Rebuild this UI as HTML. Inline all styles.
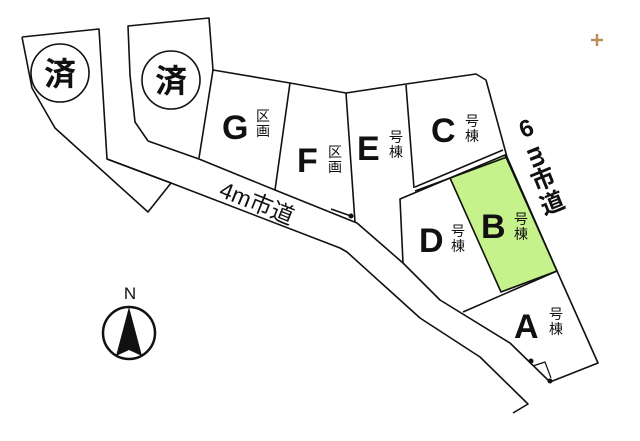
<!DOCTYPE html>
<html><head><meta charset="utf-8"><style>
html,body{margin:0;padding:0;background:#fff}
svg{display:block}
text{font-family:"Liberation Sans","Noto Sans CJK JP",sans-serif;fill:#111}
.big{font-weight:bold;font-size:34px}
.sm{font-size:14px}
</style></head><body>
<svg width="640" height="441" viewBox="0 0 640 441" xmlns="http://www.w3.org/2000/svg">
<g fill="none" stroke="#111" stroke-width="1.6" stroke-linejoin="round">
<polygon points="501,292 450,178 505,155 557,271" fill="#c6f28c"/>
<polyline points="22,37 99,29 107,159 171,183 148,212 55,128 32,88 22,37"/>
<polyline points="148,141 199,159 275,190 357,223 403,263 440,300 510,343 550,382 598,363 557,271 507,157 486,80 476,74 406,84 346,93 290,83 213,70 199,158"/>
<polyline points="148,141 135,122 130,75 128,26 209,18 213,70"/>
<polyline points="107,159 171,183 340,248 347,252 420,318 480,357 528,404 513,413"/>
<line x1="290" y1="83" x2="275" y2="190"/>
<line x1="346" y1="93" x2="355" y2="222"/>
<line x1="406" y1="85" x2="414" y2="188"/>
<line x1="415" y1="187" x2="503" y2="150"/>
<line x1="415" y1="191" x2="507" y2="157"/>
<polyline points="403,263 400,199 450,178"/>
<line x1="463" y1="312" x2="557" y2="271"/>
<line x1="331" y1="209" x2="351" y2="216"/>
<polyline points="533,366 545,362 551,378" stroke-width="1.2"/>
<circle cx="60" cy="73" r="29"/>
<circle cx="171" cy="80" r="29"/>
<circle cx="129" cy="333" r="26" stroke-width="2.5"/>
</g>
<circle cx="351" cy="216" r="2.5" fill="#111"/>
<circle cx="531" cy="361" r="2.5" fill="#111"/>
<circle cx="550" cy="381" r="2.5" fill="#111"/>
<polygon points="129,307 116,356 129,350 142,356" fill="#111"/>
<text x="130" y="299" font-size="17" text-anchor="middle">N</text>
<text x="60" y="85" font-size="32" font-weight="bold" text-anchor="middle">済</text>
<text x="171" y="92" font-size="32" font-weight="bold" text-anchor="middle">済</text>
<text class="big" x="222" y="139">G</text>
<text class="sm" x="256" y="121">区</text><text class="sm" x="256" y="136">画</text>
<text class="big" x="297" y="172">F</text>
<text class="sm" x="328" y="157">区</text><text class="sm" x="328" y="172">画</text>
<text class="big" x="357" y="160">E</text>
<text class="sm" x="389" y="142">号</text><text class="sm" x="389" y="157">棟</text>
<text class="big" x="431" y="142">C</text>
<text class="sm" x="465" y="126">号</text><text class="sm" x="465" y="141">棟</text>
<text class="big" x="419" y="252">D</text>
<text class="sm" x="451" y="236">号</text><text class="sm" x="451" y="251">棟</text>
<text class="big" x="481" y="238">B</text>
<text class="sm" x="514" y="224">号</text><text class="sm" x="514" y="239">棟</text>
<text class="big" x="514" y="338">A</text>
<text class="sm" x="549" y="319">号</text><text class="sm" x="549" y="334">棟</text>
<text x="257" y="211" font-size="23" text-anchor="middle" transform="rotate(22 257 203)">4m市道</text>
<g font-size="24" font-weight="bold">
<text x="527" y="130" text-anchor="middle" dominant-baseline="middle" transform="rotate(-22 527 130)">6</text>
<text x="536" y="157" text-anchor="middle" dominant-baseline="middle" transform="rotate(68 536 157)">m</text>
<text x="544" y="181" text-anchor="middle" dominant-baseline="middle" transform="rotate(-22 544 181)">市</text>
<text x="553" y="205" text-anchor="middle" dominant-baseline="middle" transform="rotate(-22 553 205)">道</text>
</g>
<g stroke="#b8925a" stroke-width="2.5"><line x1="591" y1="40" x2="603" y2="40"/><line x1="597" y1="34" x2="597" y2="46"/></g>
</svg>
</body></html>
